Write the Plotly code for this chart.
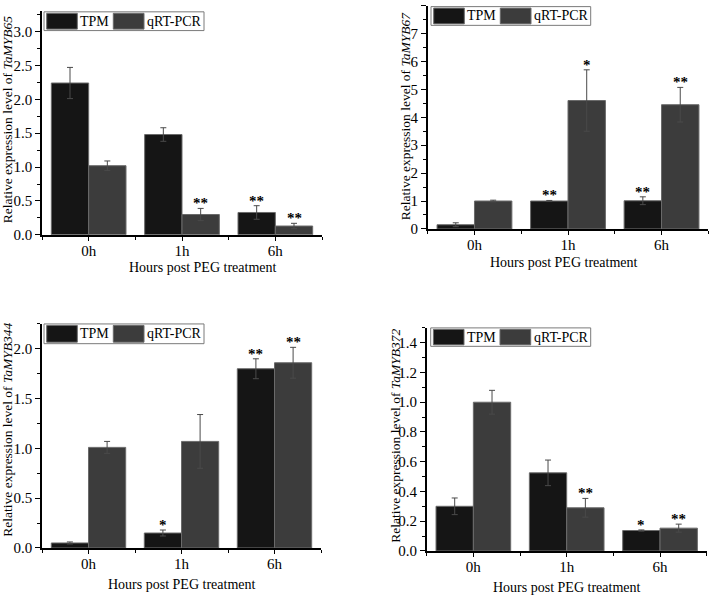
import plotly.graph_objects as go

# ---------------- data ----------------
categories = ["0h", "1h", "6h"]
series_names = ["TPM", "qRT-PCR"]

genes = ["TaMYB65", "TaMYB67", "TaMYB344", "TaMYB372"]

tpm_65 = [2.24, 1.48, 0.33]
tpm_65_err = [0.23, 0.10, 0.10]
qpcr_65 = [1.02, 0.30, 0.13]
qpcr_65_err = [0.07, 0.09, 0.04]
sig_tpm_65 = ["", "", "**"]
sig_qpcr_65 = ["", "**", "**"]

tpm_67 = [0.15, 1.00, 1.01]
tpm_67_err = [0.07, 0.02, 0.14]
qpcr_67 = [1.00, 4.60, 4.45]
qpcr_67_err = [0.03, 1.10, 0.62]
sig_tpm_67 = ["", "**", "**"]
sig_qpcr_67 = ["", "*", "**"]

tpm_344 = [0.05, 0.15, 1.80]
tpm_344_err = [0.01, 0.03, 0.10]
qpcr_344 = [1.01, 1.07, 1.86]
qpcr_344_err = [0.06, 0.27, 0.155]
sig_tpm_344 = ["", "*", "**"]
sig_qpcr_344 = ["", "", "**"]

tpm_372 = [0.30, 0.525, 0.137]
tpm_372_err = [0.056, 0.086, 0.004]
qpcr_372 = [1.00, 0.29, 0.153]
qpcr_372_err = [0.08, 0.063, 0.027]
sig_tpm_372 = ["", "", "*"]
sig_qpcr_372 = ["", "**", "**"]

y_ranges = [[0, 3.3], [0, 8], [0, 2.25], [0, 1.5]]
y_dticks = [0.5, 1, 0.5, 0.2]
y_minor = [0.25, 0.5, 0.25, 0.1]
y_formats = [".1f", "d", ".1f", ".1f"]

x_title = "Hours post PEG treatment"
y_title_prefix = "Relative expression level of "

# ---------------- styling / layout ----------------
W, H = 709, 603
FONT = "Liberation Serif, Times New Roman, serif"
C_TPM = "#151515"
C_QPCR = "#3c3c3c"
C_ERR = "#4a4a4a"


def px(x):
    return x / W


def py(y):
    return 1 - y / H


# pixel geometry of each panel
panels = [
    dict(xd=(42, 322), yd=(238, 11.3), leg=(44, 12, 204, 31), yt=(7.5, 121.4), xt=(202, 271)),
    dict(xd=(427.7, 708.3), yd=(232, 5.7), leg=(431, 6.7, 590.7, 25.7), yt=(405.8, 118), xt=(563, 266)),
    dict(xd=(42, 321), yd=(555.3, 328.3), leg=(44, 328.3, 204, 348.3), yt=(7.5, 436), xt=(181, 592.7)),
    dict(xd=(426.7, 706.7), yd=(558.3, 332.3), leg=(430.7, 332.3, 590.7, 351), yt=(394.7, 442), xt=(566, 595)),
]

data = [
    (tpm_65, tpm_65_err, qpcr_65, qpcr_65_err, sig_tpm_65, sig_qpcr_65),
    (tpm_67, tpm_67_err, qpcr_67, qpcr_67_err, sig_tpm_67, sig_qpcr_67),
    (tpm_344, tpm_344_err, qpcr_344, qpcr_344_err, sig_tpm_344, sig_qpcr_344),
    (tpm_372, tpm_372_err, qpcr_372, qpcr_372_err, sig_tpm_372, sig_qpcr_372),
]

fig = go.Figure()
annotations = []
shapes = []
xpos = list(range(len(categories)))

for i, (p, d) in enumerate(zip(panels, data)):
    tpm, tpm_err, q, q_err, s_t, s_q = d
    sfx = "" if i == 0 else str(i + 1)
    xa, ya = "x" + sfx, "y" + sfx

    for name, vals, errs, col, og in [
        (series_names[0], tpm, tpm_err, C_TPM, "a"),
        (series_names[1], q, q_err, C_QPCR, "b"),
    ]:
        fig.add_trace(go.Bar(
            x=xpos, y=vals, name=name, offsetgroup=og,
            marker=dict(color=col, line=dict(color="#6a6a6a", width=1)),
            error_y=dict(type="data", array=errs, visible=True, color=C_ERR,
                         thickness=1, width=3),
            xaxis=xa, yaxis=ya, showlegend=False,
        ))

    # significance stars
    for vals, errs, sigs, off in [(tpm, tpm_err, s_t, -0.2), (q, q_err, s_q, 0.2)]:
        for k, s in enumerate(sigs):
            if s:
                annotations.append(dict(
                    x=xpos[k] + off, y=vals[k] + errs[k], xref=xa, yref=ya,
                    text="<b>" + s + "</b>", showarrow=False, yanchor="bottom",
                    yshift=-5, font=dict(family=FONT, size=15, color="black"),
                ))

    xaxis = dict(
        domain=[px(p["xd"][0]), px(p["xd"][1])], anchor=ya,
        range=[-0.5, 2.5], tickvals=xpos, ticktext=categories,
        showline=True, linecolor="black", linewidth=1.5,
        ticks="outside", ticklen=4, tickwidth=1.2, tickcolor="black",
        ticklabelstandoff=-3,
        minor=dict(tickvals=[-0.5, 0.5, 1.5, 2.5], ticks="outside", ticklen=3,
                   tickcolor="black", tickwidth=1),
        showgrid=False, zeroline=False,
        tickfont=dict(family=FONT, size=15, color="black"),
    )
    yaxis = dict(
        domain=[py(p["yd"][0]), py(p["yd"][1])], anchor=xa,
        range=y_ranges[i], dtick=y_dticks[i], tick0=0, tickformat=y_formats[i],
        showline=True, linecolor="black", linewidth=1.5,
        ticks="outside", ticklen=5, tickwidth=1.2, tickcolor="black",
        minor=dict(dtick=y_minor[i], ticks="outside", ticklen=3,
                   tickcolor="black", tickwidth=1),
        showgrid=False, zeroline=False,
        tickfont=dict(family=FONT, size=15, color="black"),
    )
    fig.layout["xaxis" + sfx] = xaxis
    fig.layout["yaxis" + sfx] = yaxis

    # axis titles
    annotations.append(dict(
        x=px(p["xt"][0]), y=py(p["xt"][1]), xref="paper", yref="paper",
        text=x_title, showarrow=False, xanchor="center", yanchor="middle",
        font=dict(family=FONT, size=14, color="black"),
    ))
    annotations.append(dict(
        x=px(p["yt"][0]), y=py(p["yt"][1]), xref="paper", yref="paper",
        text=y_title_prefix + "<i>" + genes[i] + "</i>", showarrow=False,
        textangle=-90, xanchor="center", yanchor="middle",
        font=dict(family=FONT, size=13.5, color="black"),
    ))

    # legend box
    l, t, r, b = p["leg"]
    shapes.append(dict(type="rect", xref="paper", yref="paper",
                       x0=px(l), x1=px(r), y0=py(b), y1=py(t),
                       line=dict(color="#7a7a7a", width=1), fillcolor="white"))
    for (s0, s1, tc, col, name) in [
        (2.7, 33.3, 50.7, C_TPM, series_names[0]),
        (69.3, 100.0, 130.5, C_QPCR, series_names[1]),
    ]:
        shapes.append(dict(type="rect", xref="paper", yref="paper",
                           x0=px(l + s0), x1=px(l + s1), y0=py(b - 1.5), y1=py(t + 1.5),
                           line=dict(color="#6a6a6a", width=1), fillcolor=col))
        annotations.append(dict(
            x=px(l + tc), y=py((t + b) / 2), xref="paper", yref="paper",
            text=name, showarrow=False, xanchor="center", yanchor="middle",
            font=dict(family=FONT, size=14, color="black"),
        ))

fig.update_layout(
    width=W, height=H, margin=dict(l=0, r=0, t=0, b=0),
    paper_bgcolor="white", plot_bgcolor="white",
    barmode="group", bargap=0.2, bargroupgap=0,
    showlegend=False, annotations=annotations, shapes=shapes,
    font=dict(family=FONT, color="black"),
)

fig.write_html(
    "out.html",
    config={"displayModeBar": False},
    post_script="document.body.style.margin='0';document.body.style.overflow='hidden';",
)
